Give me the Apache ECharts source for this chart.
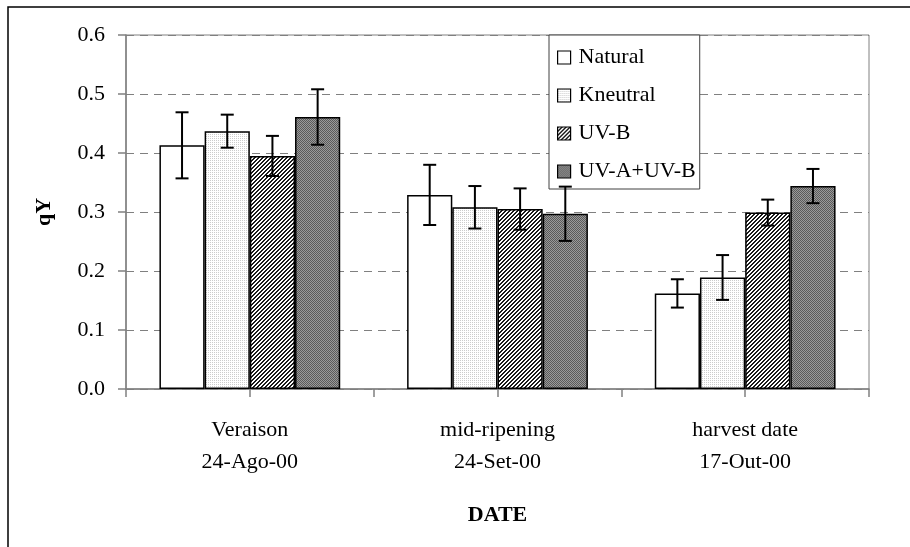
<!DOCTYPE html>
<html>
<head>
<meta charset="utf-8">
<script src="https://cdn.jsdelivr.net/npm/echarts@6/dist/echarts.min.js"></script>
<style>
html,body{margin:0;padding:0;background:#fff;}
#chart{width:910px;height:547px;}
</style>
</head>
<body>
<div id="chart"></div>
<script>
// ---- data ----
var categories = ['Veraison\n24-Ago-00', 'mid-ripening\n24-Set-00', 'harvest date\n17-Out-00'];
var seriesNames = ['Natural', 'Kneutral', 'UV-B', 'UV-A+UV-B'];
var natural   = [0.413, 0.329, 0.162];
var kneutral  = [0.437, 0.308, 0.189];
var uvb       = [0.395, 0.305, 0.299];
var uvab      = [0.461, 0.297, 0.344];
var naturalErr  = [0.056, 0.051, 0.024];
var kneutralErr = [0.028, 0.036, 0.038];
var uvbErr      = [0.034, 0.035, 0.022];
var uvabErr     = [0.047, 0.046, 0.029];
var yTicks = [0.0, 0.1, 0.2, 0.3, 0.4, 0.5, 0.6];

// ---- patterns ----
function makePattern(size, fn) {
  var c = document.createElement('canvas');
  c.width = size; c.height = size;
  var ctx = c.getContext('2d');
  fn(ctx, size);
  return c;
}
var patKneutral = makePattern(2, function (ctx) {
  ctx.fillStyle = '#ffffff'; ctx.fillRect(0, 0, 2, 2);
  ctx.fillStyle = '#cccccc'; ctx.fillRect(0, 0, 1, 1);
});
var patUVB = makePattern(4, function (ctx) {
  ctx.fillStyle = '#ffffff'; ctx.fillRect(0, 0, 4, 4);
  ctx.fillStyle = '#1a1a1a';
  for (var y = 0; y < 4; y++) {
    var x = (3 - y + 4) % 4;
    ctx.fillRect(x, y, 1, 1);
    ctx.fillRect((x + 1) % 4, y, 1, 1);
  }
});
var patUVAB = makePattern(2, function (ctx) {
  ctx.fillStyle = '#9a9a9a'; ctx.fillRect(0, 0, 2, 2);
  ctx.fillStyle = '#5a5a5a'; ctx.fillRect(0, 0, 1, 1); ctx.fillRect(1, 1, 1, 1);
});

var fills = [
  '#ffffff',
  {image: patKneutral, repeat: 'repeat'},
  {image: patUVB, repeat: 'repeat'},
  {image: patUVAB, repeat: 'repeat'}
];
var values = [natural, kneutral, uvb, uvab];
var errs = [naturalErr, kneutralErr, uvbErr, uvabErr];

var FONT = '"Liberation Serif", "Times New Roman", serif';
var CAT_GAP = 0.27;

var series = [];
for (var s = 0; s < 4; s++) {
  series.push({
    name: seriesNames[s],
    type: 'bar',
    data: values[s],
    barGap: '0%',
    barCategoryGap: (CAT_GAP * 100) + '%',
    itemStyle: {color: fills[s], borderColor: '#000', borderWidth: 1.5},
    emphasis: {disabled: true},
    z: 2
  });
}

var errData = [];
for (var s2 = 0; s2 < 4; s2++) {
  for (var c = 0; c < categories.length; c++) {
    errData.push([c, s2, values[s2][c], errs[s2][c]]);
  }
}

series.push({
  type: 'custom',
  name: 'err',
  data: errData,
  z: 5,
  encode: {x: 0, y: 2},
  renderItem: function (params, api) {
    var ci = api.value(0), si = api.value(1), v = api.value(2), e = api.value(3);
    var band = api.size([1, 0])[0];
    var bw = band * (1 - CAT_GAP) / 4;
    var center = api.coord([ci, v]);
    var x = center[0] + (si - 1.5) * bw;
    var top = api.coord([ci, v + e])[1];
    var bot = api.coord([ci, v - e])[1];
    var cap = 6.5;
    var st = {stroke: '#000', lineWidth: 2};
    return {
      type: 'group',
      children: [
        {type: 'line', shape: {x1: x, y1: top, x2: x, y2: bot}, style: st},
        {type: 'line', shape: {x1: x - cap, y1: top, x2: x + cap, y2: top}, style: st},
        {type: 'line', shape: {x1: x - cap, y1: bot, x2: x + cap, y2: bot}, style: st}
      ]
    };
  }
});

var halfTicks = [];
for (var h = 0; h < categories.length * 2; h++) halfTicks.push('t' + h);

var option = {
  animation: false,
  backgroundColor: '#ffffff',
  textStyle: {fontFamily: FONT},
  grid: {left: 126, top: 35, right: 41, bottom: 158, show: true, borderColor: '#808080', borderWidth: 1},
  legend: {
    orient: 'vertical',
    left: 549, top: 35,
    padding: [11, 4, 6, 8],
    itemGap: 15,
    itemWidth: 13, itemHeight: 13,
    backgroundColor: '#ffffff',
    borderColor: '#404040',
    borderWidth: 1,
    data: seriesNames,
    icon: 'rect',
    selectedMode: false,
    textStyle: {fontFamily: FONT, fontSize: 22, color: '#000', lineHeight: 23, padding: [0, 0, 0, 3]},
    itemStyle: {borderColor: '#000', borderWidth: 1.2}
  },
  xAxis: [{
    type: 'category',
    data: categories,
    name: 'DATE',
    nameLocation: 'middle',
    nameGap: 115,
    nameTextStyle: {fontFamily: FONT, fontSize: 22, fontWeight: 'bold', color: '#000'},
    axisLine: {lineStyle: {color: '#808080', width: 1.5}},
    axisTick: {show: false},
    axisLabel: {fontFamily: FONT, fontSize: 22, color: '#000', lineHeight: 32, margin: 25},
    splitLine: {show: false}
  }, {
    type: 'category',
    data: halfTicks,
    position: 'bottom',
    axisLine: {show: false},
    axisTick: {show: true, length: 8, lineStyle: {color: '#808080', width: 1.5}},
    axisLabel: {show: false},
    splitLine: {show: false}
  }],
  yAxis: {
    type: 'value',
    min: yTicks[0], max: yTicks[yTicks.length - 1], interval: 0.1,
    name: 'qY',
    nameLocation: 'middle',
    nameGap: 71,
    nameTextStyle: {fontFamily: FONT, fontSize: 22, fontWeight: 'bold', color: '#000'},
    axisLine: {show: true, lineStyle: {color: '#808080', width: 1.5}},
    axisTick: {show: true, length: 8, lineStyle: {color: '#808080', width: 1.5}},
    axisLabel: {fontFamily: FONT, fontSize: 22, color: '#000', margin: 21,
      formatter: function (v) { return v.toFixed(1); }},
    splitLine: {show: true, lineStyle: {color: '#808080', type: [8, 6], width: 1.2}}
  },
  graphic: [{
    type: 'rect',
    shape: {x: 8, y: 7, width: 940, height: 580},
    style: {fill: 'none', stroke: '#000', lineWidth: 1.5},
    silent: true, z: 100
  }],
  series: series
};

var chart = echarts.init(document.getElementById('chart'), null, {renderer: 'canvas'});
chart.setOption(option);
</script>
</body>
</html>
